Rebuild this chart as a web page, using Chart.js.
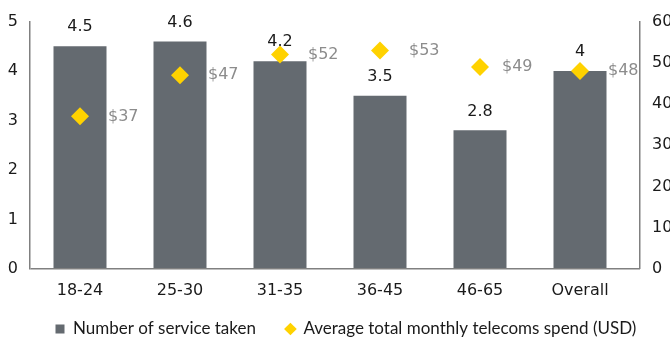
<!DOCTYPE html>
<html>
<head>
<meta charset="utf-8">
<script src="https://cdn.jsdelivr.net/npm/chart.js@4"></script>
<style>
  html, body { margin: 0; padding: 0; background: #fff; }
  #wrap { width: 670px; height: 340px; position: relative; }
</style>
</head>
<body>
<div id="wrap"><canvas id="c" width="670" height="340"></canvas></div>
<script>
// Age groups and survey results
const categories = ['18-24', '25-30', '31-35', '36-45', '46-65', 'Overall'];
const servicesTaken = [4.5, 4.6, 4.2, 3.5, 2.8, 4];
const monthlySpend = [37, 47, 52, 53, 49, 48];
const leftTicks = [0, 1, 2, 3, 4, 5];
const rightTicks = [0, 10, 20, 30, 40, 50, 60];

// Horizontal gap between each diamond and its spend label
const spendLabelGap = [28, 28, 28, 29, 22, 28];

const NUM_FONT = '"DejaVu Sans", sans-serif';
const LEGEND_FONT = 'Lato, "Liberation Sans", sans-serif';
const BAR_COLOR = '#646a70';
const DIAMOND_COLOR = '#ffd200';
const AXIS_COLOR = '#808080';
const TEXT_COLOR = '#1a1a1a';
const LEGEND_SIZE = 17;
const LEGEND_GAP = 30;

// Value labels: bar values above each bar, spend values to the right of each diamond
const valueLabels = {
  id: 'valueLabels',
  afterDatasetsDraw(chart) {
    const ctx = chart.ctx;
    ctx.save();
    ctx.font = '16px ' + NUM_FONT;
    ctx.textBaseline = 'middle';

    const barMeta = chart.getDatasetMeta(0);
    ctx.fillStyle = TEXT_COLOR;
    ctx.textAlign = 'center';
    barMeta.data.forEach((bar, i) => {
      ctx.fillText(String(servicesTaken[i]), bar.x, bar.y - 19);
    });

    const ptMeta = chart.getDatasetMeta(1);
    ctx.fillStyle = '#8c8c8c';
    ctx.textAlign = 'left';
    ptMeta.data.forEach((pt, i) => {
      ctx.fillText('$' + monthlySpend[i], pt.x + spendLabelGap[i], pt.y);
    });
    ctx.restore();
  }
};

// Category band stops 10px short of the right axis; legend row sits under the labels
const layoutTweaks = {
  id: 'layoutTweaks',
  afterLayout(chart) {
    const x = chart.scales.x;
    x.right = chart.chartArea.right - 10;
    x.width = x.right - x.left;
    x.configure();

    const lg = chart.legend;
    if (lg) {
      lg.left = 55.5 - LEGEND_GAP;
      lg.top = 329 - LEGEND_SIZE / 2 - LEGEND_GAP;
      lg.bottom = 340;
    }
  }
};

new Chart(document.getElementById('c'), {
  data: {
    labels: categories,
    datasets: [
      {
        type: 'bar',
        label: 'Number of service taken',
        data: servicesTaken,
        backgroundColor: BAR_COLOR,
        yAxisID: 'y',
        categoryPercentage: 1,
        barPercentage: 0.53,
        pointStyle: 'rect',
        order: 2
      },
      {
        type: 'line',
        label: 'Average total monthly telecoms spend (USD)',
        data: monthlySpend,
        showLine: false,
        pointStyle: 'rectRot',
        pointRadius: 9,
        pointHoverRadius: 9,
        pointBorderWidth: 0,
        backgroundColor: DIAMOND_COLOR,
        borderColor: DIAMOND_COLOR,
        yAxisID: 'y1',
        order: 1
      }
    ]
  },
  options: {
    responsive: false,
    animation: false,
    layout: { padding: { top: 20, bottom: 0, left: 0, right: 0 } },
    plugins: {
      tooltip: { enabled: false },
      legend: {
        position: 'bottom',
        align: 'start',
        maxHeight: 28,
        labels: {
          usePointStyle: true,
          boxWidth: 9,
          boxHeight: 9,
          padding: LEGEND_GAP,
          color: TEXT_COLOR,
          font: { family: LEGEND_FONT, size: LEGEND_SIZE },
          sort: (a, b) => a.datasetIndex - b.datasetIndex
        }
      }
    },
    scales: {
      x: {
        grid: { display: false, drawTicks: false },
        border: { display: false },
        ticks: { color: TEXT_COLOR, font: { family: NUM_FONT, size: 16 }, padding: 12 }
      },
      y: {
        position: 'left',
        min: 0,
        max: 5,
        afterBuildTicks(axis) { axis.ticks = leftTicks.map(v => ({ value: v })); },
        afterFit(axis) { axis.width = 30; },
        // only the zero line is drawn: it forms the baseline under the bars
        grid: {
          drawTicks: false,
          color: (c) => (c.tick && c.tick.value === 0 ? AXIS_COLOR : 'rgba(0,0,0,0)'),
          lineWidth: 1.5
        },
        border: { display: true, color: AXIS_COLOR, width: 1.5 },
        ticks: { color: TEXT_COLOR, font: { family: NUM_FONT, size: 16 }, padding: 12 }
      },
      y1: {
        position: 'right',
        min: 0,
        max: 60,
        afterBuildTicks(axis) { axis.ticks = rightTicks.map(v => ({ value: v })); },
        afterFit(axis) { axis.width = 30; },
        grid: { display: false, drawTicks: false },
        border: { display: true, color: AXIS_COLOR, width: 1.5 },
        ticks: { color: TEXT_COLOR, font: { family: NUM_FONT, size: 16 }, padding: 12 }
      }
    }
  },
  plugins: [valueLabels, layoutTweaks]
});
</script>
</body>
</html>
